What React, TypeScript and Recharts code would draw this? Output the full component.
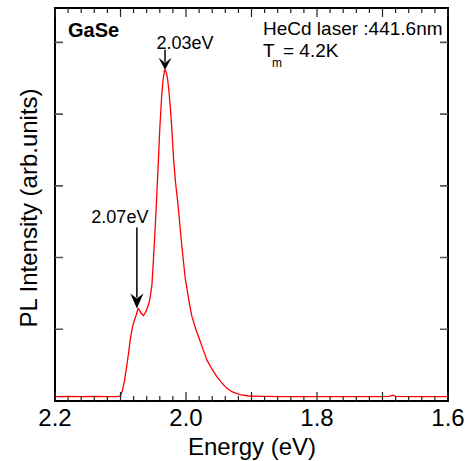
import React from "react";
import { LineChart, Line, XAxis, YAxis, ReferenceDot } from "recharts";

// photon energy (eV) and PL intensity (arb. units, 1 = one y tick)
const energy = [
  2.2, 2.18, 2.16, 2.14, 2.12, 2.105, 2.1, 2.097, 2.094, 2.091, 2.088, 2.085,
  2.082, 2.079, 2.076, 2.073, 2.071, 2.069, 2.067, 2.065, 2.063, 2.061, 2.0585,
  2.056, 2.054, 2.052, 2.05, 2.047, 2.045, 2.042, 2.04, 2.037, 2.035, 2.033,
  2.032, 2.03, 2.028, 2.026, 2.024, 2.022, 2.019, 2.016, 2.012, 2.009, 2.005,
  2.001, 1.997, 1.994, 1.991, 1.985, 1.979, 1.974, 1.968, 1.96, 1.953, 1.945,
  1.938, 1.93, 1.918, 1.904, 1.88, 1.85, 1.8, 1.75, 1.7, 1.69, 1.684, 1.68,
  1.65, 1.6,
];
const intensity = [
  0.06, 0.065, 0.06, 0.065, 0.06, 0.06, 0.07, 0.15, 0.28, 0.45, 0.65, 0.86,
  1.02, 1.12, 1.2, 1.29, 1.27, 1.23, 1.21, 1.19, 1.22, 1.25, 1.31, 1.38, 1.49,
  1.62, 1.93, 2.42, 2.8, 3.38, 3.8, 4.27, 4.48, 4.6, 4.62, 4.58, 4.48, 4.32,
  4.1, 3.85, 3.38, 3.05, 2.72, 2.42, 2.04, 1.7, 1.48, 1.32, 1.18, 1.0, 0.85,
  0.72, 0.57, 0.44, 0.34, 0.25, 0.18, 0.13, 0.09, 0.07, 0.065, 0.06, 0.06,
  0.06, 0.06, 0.065, 0.08, 0.065, 0.06, 0.06,
];

const xLabels = [2.2, 2.0, 1.8, 1.6];
const xTicks = Array.from({ length: 31 }, (_, i) => +(1.6 + i * 0.02).toFixed(2));
const yTicks = [1, 2, 3, 4, 5];
const xDomain = [1.6, 2.2];
const yDomain = [0, 5.48];

const peakEnergy = [2.032, 2.075];
const peakIntensity = [4.62, 1.29];
const peakLabels = ["2.03eV", "2.07eV"];

const spectrum = energy.map((e, i) => ({ energy: e, intensity: intensity[i] }));

const FONT = "'Liberation Sans', Arial, Helvetica, sans-serif";
const W = 476;
const H = 461;
const MARGIN = { top: 8, right: 28, bottom: 0, left: 0 };
const PLOT_LEFT = 55;
const PLOT_TOP = MARGIN.top;
const PLOT_RIGHT = W - MARGIN.right;
const PLOT_BOTTOM = H - 60;

const isMajor = (v: number) => Math.abs(v * 10 - Math.round(v * 10)) < 1e-6;
const hasLabel = (v: number) => xLabels.some((l) => Math.abs(l - v) < 1e-6);

// ticks point inwards on bottom and (mirrored) top of the frame
const XTick = (props: any) => {
  const { x, y, payload } = props;
  const v = payload.value;
  const len = isMajor(v) ? 9 : 5;
  return (
    <g>
      <path d={`M${x},${y}V${y - len}M${x},${PLOT_TOP}V${PLOT_TOP + len}`} stroke="#222" strokeWidth={1.2} fill="none" />
      {hasLabel(v) && (
        <text x={x} y={y + 25} textAnchor="middle" fontSize={24} fill="#000">
          {v.toFixed(1)}
        </text>
      )}
    </g>
  );
};

const YTick = (props: any) => {
  const { x, y } = props;
  return (
    <path d={`M${x},${y}H${x + 8}M${PLOT_RIGHT},${y}H${PLOT_RIGHT - 8}`} stroke="#555" strokeWidth={1.6} fill="none" />
  );
};

// arrow pointing down onto the curve, tip at (cx, cy)
const Arrow = (props: any) => {
  const { cx, cy, len, head, label, dx, dy } = props;
  const w = 13;
  return (
    <g>
      <line x1={cx} y1={cy - len} x2={cx} y2={cy - head + 4} stroke="#000" strokeWidth={1.5} />
      <path
        d={`M${cx},${cy} L${cx - w / 2},${cy - head} L${cx},${cy - head + 5} L${cx + w / 2},${cy - head} Z`}
        fill="#000"
      />
      <text x={cx + dx} y={cy + dy} textAnchor="middle" fontSize={18} fill="#000">
        {label}
      </text>
    </g>
  );
};

export default function App() {
  return (
    <div style={{ position: "absolute", left: 0, top: 0, fontFamily: FONT }}>
      <LineChart width={W} height={H} data={spectrum} margin={MARGIN}>
        <XAxis
          dataKey="energy"
          type="number"
          domain={xDomain}
          reversed
          allowDataOverflow
          ticks={xTicks}
          interval={0}
          height={60}
          tickSize={0}
          tickMargin={0}
          tick={<XTick />}
          axisLine={false}
          tickLine={false}
        />
        <YAxis
          type="number"
          domain={yDomain}
          allowDataOverflow
          ticks={yTicks}
          interval={0}
          width={55}
          tickSize={0}
          tickMargin={0}
          tick={<YTick />}
          axisLine={false}
          tickLine={false}
        />
        {/* plot frame */}
        <rect
          x={PLOT_LEFT}
          y={PLOT_TOP}
          width={PLOT_RIGHT - PLOT_LEFT}
          height={PLOT_BOTTOM - PLOT_TOP}
          fill="none"
          stroke="#000"
          strokeWidth={2}
        />
        <Line
          type="linear"
          dataKey="intensity"
          stroke="#ff0000"
          strokeWidth={1.3}
          dot={false}
          activeDot={false}
          isAnimationActive={false}
        />
        <ReferenceDot
          x={peakEnergy[0]}
          y={peakIntensity[0]}
          shape={(p: any) => <Arrow {...p} len={20} head={12} label={peakLabels[0]} dx={20} dy={-21} />}
        />
        <ReferenceDot
          x={peakEnergy[1]}
          y={peakIntensity[1]}
          shape={(p: any) => <Arrow {...p} len={81} head={15} label={peakLabels[1]} dx={-17} dy={-85} />}
        />
        <text x={68} y={37} fontSize={20} fontWeight="bold" fill="#000">
          GaSe
        </text>
        <text x={263} y={35} fontSize={19} fill="#000">
          HeCd laser :441.6nm
        </text>
        <text x={263} y={57} fontSize={19} fill="#000">
          T
        </text>
        <text x={272} y={67} fontSize={12} fill="#000">
          m
        </text>
        <text x={283} y={57} fontSize={19} fill="#000">
          = 4.2K
        </text>
        <text x={252} y={455} textAnchor="middle" fontSize={24} fill="#000">
          Energy (eV)
        </text>
        <text
          x={37}
          y={208}
          textAnchor="middle"
          fontSize={24}
          fill="#000"
          transform="rotate(-90 37 208)"
        >
          PL Intensity (arb.units)
        </text>
      </LineChart>
    </div>
  );
}
